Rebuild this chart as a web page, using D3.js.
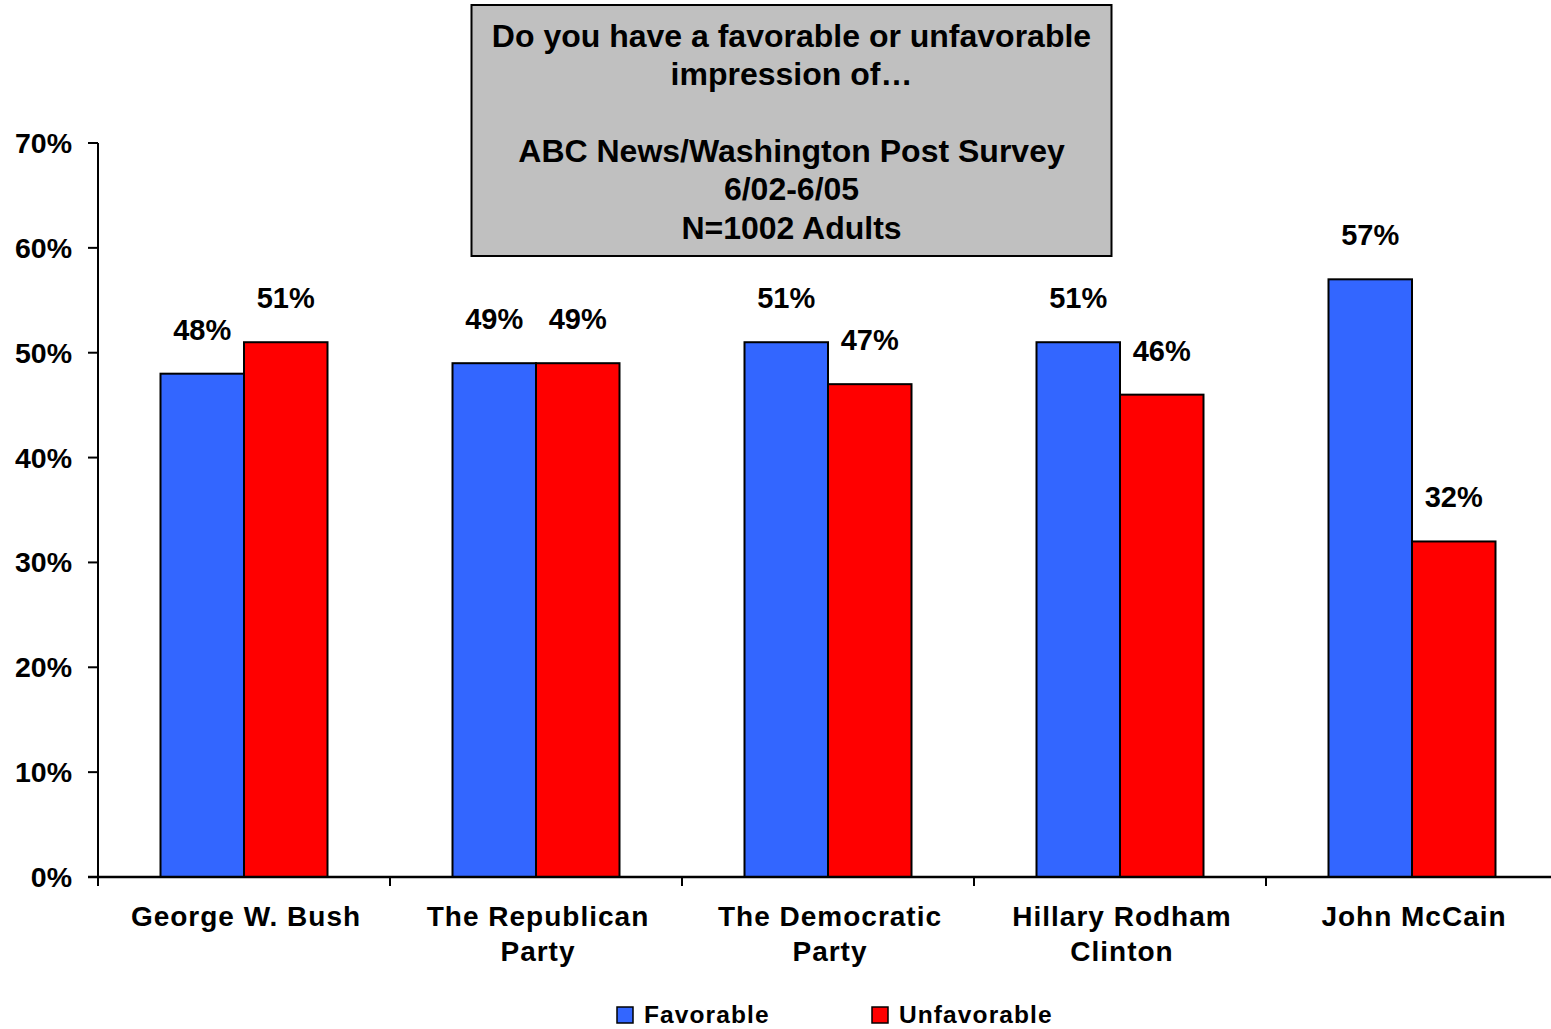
<!DOCTYPE html>
<html>
<head>
<meta charset="utf-8">
<script src="https://cdn.jsdelivr.net/npm/d3@7"></script>
<style>
  html, body { margin: 0; padding: 0; background: #fff; }
  svg { display: block; }
  text { font-family: "Liberation Sans", Arial, sans-serif; font-weight: bold; fill: #000; }
</style>
</head>
<body>
<script>
// ---- data ----
const categories = ["George W. Bush", "The Republican Party", "The Democratic Party", "Hillary Rodham Clinton", "John McCain"];
const categoryLines = [["George W. Bush"], ["The Republican", "Party"], ["The Democratic", "Party"], ["Hillary Rodham", "Clinton"], ["John McCain"]];
const seriesNames = ["Favorable", "Unfavorable"];
const favorable = [48, 49, 51, 51, 57];
const unfavorable = [51, 49, 47, 46, 32];
const yTicks = [0, 10, 20, 30, 40, 50, 60, 70];
const titleLines = ["Do you have a favorable or unfavorable", "impression of\u2026", "", "ABC News/Washington Post Survey", "6/02-6/05", "N=1002 Adults"];

const colors = { Favorable: "#3366FF", Unfavorable: "#FF0000" };

const W = 1551, H = 1029;
const svg = d3.select("body").append("svg").attr("width", W).attr("height", H);

const x0 = 98, x1 = 1558, yTop = 143, yBot = 877;
const x = d3.scaleBand().domain(categories).range([x0, x1]).padding(0);
const groupW = 167;
const xs = d3.scaleBand().domain(seriesNames).range([0, groupW]).padding(0);
const y = d3.scaleLinear().domain([0, 70]).range([yBot, yTop]);

const values = { Favorable: favorable, Unfavorable: unfavorable };

// bars
const groups = svg.selectAll("g.cat").data(categories).enter().append("g")
  .attr("transform", d => `translate(${x(d) + (x.bandwidth() - groupW) / 2},0)`);

groups.each(function(cat, i) {
  const g = d3.select(this);
  seriesNames.forEach(s => {
    const v = values[s][i];
    g.append("rect")
      .attr("x", xs(s))
      .attr("y", y(v))
      .attr("width", xs.bandwidth())
      .attr("height", yBot - y(v))
      .attr("fill", colors[s])
      .attr("stroke", "#000")
      .attr("stroke-width", 2);
    g.append("text")
      .attr("x", xs(s) + xs.bandwidth() / 2)
      .attr("y", y(v) - 34)
      .attr("text-anchor", "middle")
      .style("font-size", "29px")
      .text(v + "%");
  });
});

// y axis
svg.append("line").attr("x1", x0).attr("x2", x0).attr("y1", yTop).attr("y2", yBot + 9)
  .attr("stroke", "#000").attr("stroke-width", 2);
yTicks.forEach(t => {
  svg.append("line").attr("x1", x0 - 10).attr("x2", x0).attr("y1", y(t)).attr("y2", y(t))
    .attr("stroke", "#000").attr("stroke-width", 2);
  svg.append("text").attr("x", 72).attr("y", y(t) + 10).attr("text-anchor", "end")
    .style("font-size", "28.5px").text(t + "%");
});

// x axis
svg.append("line").attr("x1", x0 - 10).attr("x2", W).attr("y1", yBot).attr("y2", yBot)
  .attr("stroke", "#000").attr("stroke-width", 2.5);
categories.forEach((c, i) => {
  if (i > 0) {
    svg.append("line").attr("x1", x(c)).attr("x2", x(c)).attr("y1", yBot).attr("y2", yBot + 9)
      .attr("stroke", "#000").attr("stroke-width", 2);
  }
  const t = svg.append("text").attr("text-anchor", "middle")
    .style("font-size", "28px").style("letter-spacing", "1px");
  categoryLines[i].forEach((ln, j) => {
    t.append("tspan").attr("x", x(c) + x.bandwidth() / 2 + 2).attr("y", 926 + j * 35).text(ln);
  });
});

// title box
svg.append("rect").attr("x", 471.5).attr("y", 5).attr("width", 640).attr("height", 251)
  .attr("fill", "#C0C0C0").attr("stroke", "#000").attr("stroke-width", 2);
const tt = svg.append("text").attr("text-anchor", "middle").style("font-size", "32px");
titleLines.forEach((ln, j) => {
  tt.append("tspan").attr("x", 791.5).attr("y", 47 + j * 38.35).text(ln);
});

// legend
const legendItems = [{ name: "Favorable", x: 617 }, { name: "Unfavorable", x: 872 }];
legendItems.forEach(it => {
  svg.append("rect").attr("x", it.x).attr("y", 1007).attr("width", 16).attr("height", 16)
    .attr("fill", colors[it.name]).attr("stroke", "#000").attr("stroke-width", 1.5);
  svg.append("text").attr("x", it.x + 27).attr("y", 1023)
    .style("font-size", "24.5px").style("letter-spacing", "1.1px").text(it.name);
});
</script>
</body>
</html>
